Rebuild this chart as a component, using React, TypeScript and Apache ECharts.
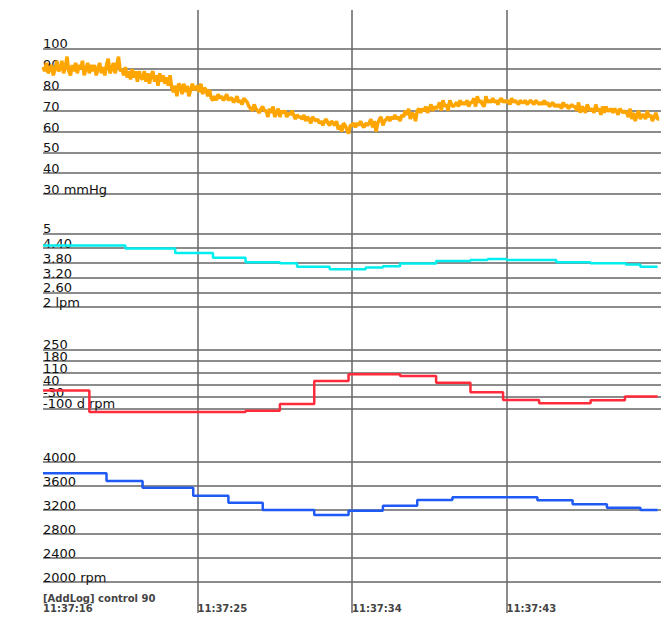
import React, { useEffect, useRef } from "react";
import * as echarts from "echarts";

// ---------- data ----------
const timeMin = 16;
const timeMax = 52;
const timeTicks = [16, 25, 34, 43];
const timeLabels = ["11:37:16", "11:37:25", "11:37:34", "11:37:43"];
const logNote = "[AddLog] control 90";

const bpTicks = [30, 40, 50, 60, 70, 80, 90, 100];
const bpLabels = ["30 mmHg", "40", "50", "60", "70", "80", "90", "100"];
const bpStart = 16;
const bpStep = 0.1;
const bpValues = [
  91, 89, 93, 88, 90, 92, 87, 90, 94, 89,
  90, 94, 88, 91, 96, 89, 87, 92, 89, 93,
  88, 92, 90, 94, 87, 90, 93, 88, 92, 89,
  92, 87, 90, 93, 88, 91, 87, 92, 95, 88,
  90, 93, 88, 92, 96, 89, 90, 87, 91, 86,
  89, 85, 90, 86, 89, 84, 89, 86, 85, 89,
  84, 88, 83, 87, 89, 84, 87, 82, 88, 84,
  87, 83, 86, 82, 87, 81, 79, 82, 77, 83,
  82, 78, 83, 79, 82, 77, 80, 83, 80, 81,
  82, 79, 83, 78, 81, 80, 77, 80, 76, 75,
  77, 75, 78, 76, 77, 75, 76, 78, 75, 76,
  76, 74, 75, 77, 74, 75, 73, 76, 75, 74,
  72, 71, 70, 73, 71, 70, 69, 71, 72, 70,
  70, 67, 71, 69, 72, 67, 69, 71, 67, 70,
  69, 70, 67, 69, 68, 70, 68, 66, 68, 67,
  67, 66, 68, 65, 67, 66, 64, 67, 66, 65,
  66, 64, 65, 63, 65, 66, 64, 63, 65, 64,
  63, 65, 61, 63, 60, 64, 63, 61, 59, 63,
  63, 64, 62, 64, 63, 65, 63, 62, 64, 63,
  64, 66, 62, 65, 60, 64, 66, 67, 63, 65,
  66, 67, 65, 67, 66, 68, 66, 67, 65, 68,
  67, 70, 68, 71, 66, 69, 68, 65, 70, 71,
  69, 71, 70, 72, 69, 71, 73, 70, 72, 71,
  72, 74, 70, 75, 72, 73, 70, 75, 73, 72,
  73, 74, 72, 75, 73, 74, 73, 75, 72, 74,
  74, 76, 72, 77, 74, 75, 73, 72, 77, 74,
  75, 74, 76, 74, 75, 73, 75, 76, 74, 75,
  74, 75, 73, 76, 74, 75, 74, 73, 75, 74,
  74, 75, 73, 74, 75, 74, 73, 75, 74, 73,
  74, 73, 75, 73, 74, 72, 73, 74, 72, 73,
  72, 73, 71, 74, 72, 73, 71, 72, 73, 72,
  72, 70, 74, 69, 72, 71, 69, 73, 71, 70,
  71, 69, 73, 70, 71, 68, 72, 69, 72, 70,
  70, 71, 69, 71, 70, 68, 71, 70, 69, 70,
  69, 67, 71, 66, 69, 65, 68, 70, 66, 68,
  68, 66, 70, 67, 68, 65, 67, 69, 66, 66,
];

const flowTicks = [2, 2.6, 3.2, 3.8, 4.4, 5];
const flowLabels = ["2 lpm", "2.60", "3.20", "3.80", "4.40", "5"];
const flowTimes = [16, 20.8, 23.7, 25.9, 27.8, 29.8, 30.8, 32.7, 34.8, 35.8, 36.8, 38.9, 40.9, 41.9, 43.0, 45.9, 47.9, 49.95, 50.8, 51.8];
const flowValues = [4.5, 4.38, 4.2, 4.0, 3.82, 3.78, 3.64, 3.54, 3.61, 3.66, 3.77, 3.87, 3.91, 3.95, 3.91, 3.82, 3.78, 3.73, 3.64, 3.64];

const dRpmTicks = [-100, -30, 40, 110, 180, 250];
const dRpmLabels = ["-100 d rpm", "-30", "40", "110", "180", "250"];
const dRpmTimes = [16, 18.7, 27.8, 29.8, 31.8, 33.8, 36.8, 38.9, 40.9, 42.8, 44.9, 47.9, 49.9, 51.8];
const dRpmValues = [5, -122, -114, -74, 62, 102, 92, 52, -5, -51, -70, -52, -30, -30];

const rpmTicks = [2000, 2400, 2800, 3200, 3600, 4000];
const rpmLabels = ["2000 rpm", "2400", "2800", "3200", "3600", "4000"];
const rpmTimes = [16, 19.7, 21.8, 24.75, 26.8, 28.8, 31.8, 33.8, 35.8, 37.8, 39.85, 44.8, 46.85, 48.85, 50.8, 51.8];
const rpmValues = [3807, 3678, 3567, 3433, 3317, 3195, 3112, 3183, 3267, 3362, 3407, 3357, 3290, 3233, 3195, 3195];

// ---------- chart ----------
function pair(times: number[], values: number[]) {
  return times.map((t, i) => [t, values[i]]);
}

function labelFor(ticks: number[], labels: string[], v: number) {
  let best = 0;
  for (let i = 1; i < ticks.length; i++) {
    if (Math.abs(ticks[i] - v) < Math.abs(ticks[best] - v)) best = i;
  }
  return labels[best];
}

export default function App() {
  const ref = useRef<HTMLDivElement>(null);

  useEffect(() => {
    if (!ref.current) return;
    const chart = echarts.init(ref.current, null, { renderer: "svg" });

    const bpData = bpValues.map((v, i) => [bpStart + i * bpStep, v]);

    const panels = [
      { top: 48.3, height: 145.7, ticks: bpTicks, labels: bpLabels, data: bpData, color: "#FFA500", width: 3.5, step: false as any },
      { top: 233.3, height: 73.7, ticks: flowTicks, labels: flowLabels, data: pair(flowTimes, flowValues), color: "#00EEEE", width: 2.5, step: "end" },
      { top: 349.3, height: 59, ticks: dRpmTicks, labels: dRpmLabels, data: pair(dRpmTimes, dRpmValues), color: "#FF2A3A", width: 2.5, step: "end" },
      { top: 461.7, height: 120, ticks: rpmTicks, labels: rpmLabels, data: pair(rpmTimes, rpmValues), color: "#1F5AF5", width: 2.5, step: "end" },
    ];

    const gridLine = { color: "#666", width: 1.5 };

    const grids: any[] = panels.map((p) => ({ left: 43, right: 4, top: p.top, height: p.height }));
    grids.push({ left: 43, right: 4, top: 10, bottom: 4 });

    const xAxes: any[] = panels.map((_, i) => ({
      type: "value",
      gridIndex: i,
      min: timeMin,
      max: timeMax,
      show: false,
    }));
    xAxes.push({
      type: "value",
      gridIndex: 4,
      min: timeMin,
      max: timeMax,
      position: "bottom",
      axisLine: { show: false },
      axisTick: { show: false, customValues: timeTicks.slice(1) },
      splitLine: { show: true, lineStyle: gridLine },
      axisLabel: {
        inside: true,
        margin: 0,
        customValues: timeTicks,
        showMinLabel: true,
        align: "left",
        verticalAlign: "bottom",
        fontFamily: "DejaVu Sans",
        fontWeight: "bold",
        fontSize: 10,
        lineHeight: 9.5,
        color: "#444",
        formatter: (v: number) => {
          const l = labelFor(timeTicks, timeLabels, v);
          return v === timeTicks[0] ? logNote + "\n" + l : l;
        },
      },
    });

    // Two y axes per panel: labels split in alternate sets so none is auto-hidden.
    const yAxes: any[] = [];
    const axisIndexOfPanel: number[] = [];
    panels.forEach((p, i) => {
      const even = p.ticks.filter((_, k) => k % 2 === 0);
      const odd = p.ticks.filter((_, k) => k % 2 === 1);
      [even, odd].forEach((set, s) => {
        if (s === 0) axisIndexOfPanel.push(yAxes.length);
        yAxes.push({
          type: "value",
          gridIndex: i,
          min: p.ticks[0],
          max: p.ticks[p.ticks.length - 1],
          position: "left",
          offset: 0,
          axisLine: { show: false },
          axisTick: { show: false, customValues: s === 0 ? p.ticks : set },
          splitLine: { show: s === 0, lineStyle: gridLine },
          axisLabel: {
            inside: true,
            margin: 0,
            customValues: set,
            showMinLabel: true,
            showMaxLabel: true,
            hideOverlap: false,
            align: "left",
            verticalAlign: "bottom",
            fontFamily: "DejaVu Sans",
            fontSize: 13,
            lineHeight: 9,
            color: "#111",
            formatter: (v: number) => labelFor(p.ticks, p.labels, v),
          },
        });
      });
    });
    yAxes.push({ type: "value", gridIndex: 4, show: false, min: 0, max: 1 });

    const series: any[] = panels.map((p, i) => ({
      type: "line",
      xAxisIndex: i,
      yAxisIndex: axisIndexOfPanel[i],
      data: p.data,
      step: p.step,
      showSymbol: false,
      symbol: "none",
      clip: false,
      lineStyle: { color: p.color, width: p.width },
      z: 5,
    }));

    chart.setOption({
      animation: false,
      backgroundColor: "#ffffff",
      grid: grids,
      xAxis: xAxes,
      yAxis: yAxes,
      series,
    });

    return () => chart.dispose();
  }, []);

  return (
    <div
      ref={ref}
      style={{ position: "absolute", left: 0, top: 0, width: 665, height: 617 }}
    />
  );
}
